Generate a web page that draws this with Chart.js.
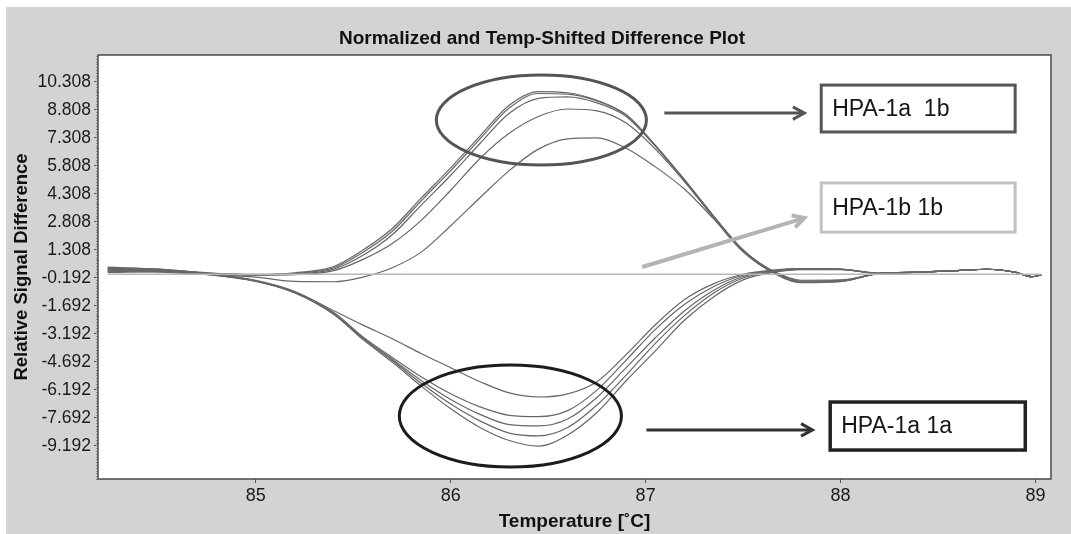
<!DOCTYPE html>
<html>
<head>
<meta charset="utf-8">
<title>Difference Plot</title>
<script src="https://cdn.jsdelivr.net/npm/chart.js@4/dist/chart.umd.min.js"></script>
<style>
  html, body { margin: 0; padding: 0; background: #fff; }
  canvas { display: block; }
</style>
</head>
<body>
<canvas id="diffChart" width="1071" height="534"></canvas>
<script>
// Melt temperatures shared by every trace
const temps = [84.24, 84.5, 84.75, 85.0, 85.2, 85.4, 85.55, 85.7, 85.85, 86.0, 86.15, 86.3, 86.45, 86.6, 86.75,
  86.9, 87.05, 87.2, 87.35, 87.5, 87.65, 87.8, 88.0, 88.2, 88.4, 88.6, 88.75, 88.9, 88.98, 89.03];

// HPA-1a 1b samples (positive hump)
const het1 = [0.38, 0.28, 0.08, 0.0, 0.08, 0.42, 1.30, 2.45, 4.10, 5.70, 7.40, 9.05, 9.78, 9.72, 9.32,
  8.55, 6.90, 5.05, 3.10, 1.30, 0.20, -0.32, -0.30, 0.05, 0.12, 0.20, 0.27, 0.10, -0.13, -0.04];
const het2 = [0.33, 0.25, 0.06, -0.02, 0.05, 0.35, 1.18, 2.30, 3.95, 5.55, 7.25, 8.90, 9.68, 9.65, 9.28,
  8.52, 6.90, 5.05, 3.10, 1.30, 0.18, -0.36, -0.33, 0.05, 0.12, 0.20, 0.27, 0.10, -0.13, -0.04];
const het3 = [0.28, 0.22, 0.05, -0.03, 0.02, 0.28, 1.02, 2.12, 3.72, 5.30, 7.00, 8.62, 9.42, 9.50, 9.18,
  8.45, 6.85, 5.00, 3.05, 1.27, 0.15, -0.40, -0.36, 0.05, 0.12, 0.20, 0.27, 0.10, -0.13, -0.04];
const het4 = [0.22, 0.18, 0.04, -0.04, -0.02, 0.20, 0.80, 1.65, 2.90, 4.50, 6.20, 7.55, 8.45, 8.85, 8.75,
  8.10, 6.70, 4.95, 3.02, 1.25, 0.13, -0.42, -0.38, 0.05, 0.12, 0.20, 0.27, 0.10, -0.13, -0.04];
const het5 = [0.15, 0.12, 0.0, -0.15, -0.38, -0.40, -0.15, 0.35, 1.20, 2.60, 4.10, 5.55, 6.70, 7.25, 7.30,
  6.75, 5.75, 4.55, 2.95, 1.20, 0.10, -0.45, -0.40, 0.05, 0.12, 0.20, 0.27, 0.10, -0.13, -0.04];

// HPA-1a 1a samples (negative trough)
const hom1 = [0.35, 0.28, 0.05, -0.33, -0.92, -1.95, -2.72, -3.45, -4.25, -5.00, -5.75, -6.35, -6.57, -6.40, -5.75,
  -4.30, -2.70, -1.35, -0.50, 0.00, 0.22, 0.30, 0.28, 0.05, 0.12, 0.20, 0.27, 0.10, -0.13, -0.04];
const hom2 = [0.30, 0.25, 0.03, -0.35, -0.95, -2.05, -3.35, -4.45, -5.50, -6.40, -7.10, -7.55, -7.62, -7.30, -6.20,
  -4.60, -2.95, -1.60, -0.65, -0.05, 0.18, 0.30, 0.28, 0.05, 0.12, 0.20, 0.27, 0.10, -0.13, -0.04];
const hom3 = [0.25, 0.22, 0.02, -0.36, -0.97, -2.10, -3.40, -4.55, -5.70, -6.70, -7.50, -8.05, -8.12, -7.75, -6.60,
  -5.00, -3.40, -1.95, -0.85, -0.12, 0.15, 0.28, 0.27, 0.05, 0.12, 0.20, 0.27, 0.10, -0.13, -0.04];
const hom4 = [0.18, 0.18, 0.0, -0.37, -0.98, -2.12, -3.45, -4.62, -5.85, -6.95, -7.85, -8.50, -8.65, -8.20, -7.00,
  -5.40, -3.70, -2.20, -1.00, -0.20, 0.12, 0.28, 0.26, 0.05, 0.12, 0.20, 0.27, 0.10, -0.13, -0.04];
const hom5 = [0.10, 0.15, -0.02, -0.38, -1.00, -2.15, -3.50, -4.70, -6.00, -7.20, -8.20, -8.90, -9.20, -8.60, -7.40,
  -5.70, -4.10, -2.45, -1.20, -0.30, 0.10, 0.25, 0.25, 0.05, 0.12, 0.20, 0.27, 0.10, -0.13, -0.04];

// HPA-1b 1b reference trace (flat)
const refTemps = [84.24, 89.03];
const refValues = [0, 0];

// Axis ticks
const xTickValues = [85, 86, 87, 88, 89];
const xTickLabels = ['85', '86', '87', '88', '89'];
const yTickValues = [10.308, 8.808, 7.308, 5.808, 4.308, 2.808, 1.308, -0.192, -1.692, -3.192, -4.692, -6.192, -7.692, -9.192];
const yTickLabels = ['10.308', '8.808', '7.308', '5.808', '4.308', '2.808', '1.308', '-0.192', '-1.692', '-3.192', '-4.692', '-6.192', '-7.692', '-9.192'];

// Genotype call-outs, placed in data units
const rings = [
  { cx: 86.465, cy: 8.26, rx: 0.539, ry: 2.41, color: '#555555', width: 3 },
  { cx: 86.306, cy: -7.59, rx: 0.57, ry: 2.73, color: '#1c1c1c', width: 3 },
];
const pointers = [
  { from: [87.096, 8.63], to: [87.814, 8.63], color: '#555555', width: 3 },
  { from: [86.982, 0.39], to: [87.814, 3.01], color: '#b4b4b4', width: 4 },
  { from: [87.004, -8.33], to: [87.856, -8.33], color: '#333333', width: 3 },
];
const labelBoxes = [
  { x0: 87.901, x1: 88.896, y0: 10.13, y1: 7.62, text: 'HPA-1a  1b', border: '#555555', width: 3 },
  { x0: 87.901, x1: 88.896, y0: 4.89, y1: 2.26, text: 'HPA-1b 1b', border: '#c2c2c2', width: 3 },
  { x0: 87.947, x1: 88.948, y0: -6.84, y1: -9.41, text: 'HPA-1a 1a', border: '#222222', width: 3.5 },
];

Chart.defaults.font.family = "'Liberation Sans', Arial, sans-serif";
Chart.defaults.color = '#1a1a1a';

const toPoints = (xs, ys) => xs.map((t, i) => ({ x: t, y: ys[i] }));

function trace(ys) {
  return {
    data: toPoints(temps, ys),
    borderColor: '#676767',
    borderWidth: 1.2,
    pointRadius: 0,
    fill: false,
    cubicInterpolationMode: 'monotone',
  };
}

// grey panel, white plot area, its frame and the minor ticks on the value axis
const panelBackground = {
  id: 'panelBackground',
  beforeDraw(chart) {
    const { ctx, chartArea: a } = chart;
    ctx.save();
    ctx.fillStyle = '#ffffff';
    ctx.fillRect(0, 0, chart.width, chart.height);
    ctx.fillStyle = '#d2d3d2';
    ctx.fillRect(6, 7, chart.width - 6, chart.height - 7);
    ctx.fillStyle = '#ffffff';
    ctx.fillRect(a.left, a.top, a.right - a.left, a.bottom - a.top);
    ctx.restore();
  },
  beforeDatasetsDraw(chart) {
    const { ctx, chartArea: a } = chart;
    const sy = chart.scales.y;
    ctx.save();
    ctx.strokeStyle = '#8a8a8a';
    ctx.lineWidth = 1;
    ctx.beginPath();
    for (let v = sy.min; v <= sy.max; v += 0.15) {
      const py = Math.round(sy.getPixelForValue(v)) + 0.5;
      ctx.moveTo(a.left - 2, py);
      ctx.lineTo(a.left, py);
    }
    ctx.stroke();
    ctx.strokeStyle = '#4a4a4a';
    ctx.lineWidth = 1.5;
    ctx.strokeRect(a.left, a.top, a.right - a.left, a.bottom - a.top);
    ctx.restore();
  },
};

// ellipses, arrows and boxed genotype names
const callouts = {
  id: 'callouts',
  afterDatasetsDraw(chart) {
    const { ctx } = chart;
    const sx = chart.scales.x;
    const sy = chart.scales.y;
    ctx.save();

    rings.forEach((r) => {
      const cx = sx.getPixelForValue(r.cx);
      const cy = sy.getPixelForValue(r.cy);
      const rx = sx.getPixelForValue(r.cx + r.rx) - cx;
      const ry = cy - sy.getPixelForValue(r.cy + r.ry);
      ctx.beginPath();
      ctx.ellipse(cx, cy, rx, ry, 0, 0, Math.PI * 2);
      ctx.strokeStyle = r.color;
      ctx.lineWidth = r.width;
      ctx.stroke();
    });

    pointers.forEach((p) => {
      const x0 = sx.getPixelForValue(p.from[0]);
      const y0 = sy.getPixelForValue(p.from[1]);
      const x1 = sx.getPixelForValue(p.to[0]);
      const y1 = sy.getPixelForValue(p.to[1]);
      const ang = Math.atan2(y1 - y0, x1 - x0);
      const head = 13;
      ctx.strokeStyle = p.color;
      ctx.lineWidth = p.width;
      ctx.lineCap = 'butt';
      ctx.beginPath();
      ctx.moveTo(x0, y0);
      ctx.lineTo(x1 - 2 * Math.cos(ang), y1 - 2 * Math.sin(ang));
      ctx.stroke();
      ctx.lineJoin = 'miter';
      ctx.beginPath();
      ctx.moveTo(x1 - head * Math.cos(ang - 0.5), y1 - head * Math.sin(ang - 0.5));
      ctx.lineTo(x1, y1);
      ctx.lineTo(x1 - head * Math.cos(ang + 0.5), y1 - head * Math.sin(ang + 0.5));
      ctx.stroke();
    });

    ctx.font = "23px 'Liberation Sans', Arial, sans-serif";
    ctx.textBaseline = 'middle';
    ctx.textAlign = 'left';
    labelBoxes.forEach((b) => {
      const left = sx.getPixelForValue(b.x0);
      const right = sx.getPixelForValue(b.x1);
      const top = sy.getPixelForValue(b.y0);
      const bottom = sy.getPixelForValue(b.y1);
      ctx.fillStyle = '#ffffff';
      ctx.fillRect(left, top, right - left, bottom - top);
      ctx.strokeStyle = b.border;
      ctx.lineWidth = b.width;
      ctx.strokeRect(left, top, right - left, bottom - top);
      ctx.fillStyle = '#161616';
      ctx.fillText(b.text, left + 11, (top + bottom) / 2 + 1);
    });

    ctx.restore();
  },
};

new Chart(document.getElementById('diffChart'), {
  type: 'line',
  data: {
    datasets: [
      {
        data: toPoints(refTemps, refValues),
        borderColor: '#b9b9b9',
        borderWidth: 1.6,
        pointRadius: 0,
        fill: false,
      },
      trace(hom1), trace(hom2), trace(hom3), trace(hom4), trace(hom5),
      trace(het5), trace(het4), trace(het3), trace(het2), trace(het1),
    ],
  },
  options: {
    responsive: false,
    animation: false,
    events: [],
    layout: { padding: { left: 13, top: 7, right: 0, bottom: 0 } },
    plugins: {
      legend: { display: false },
      tooltip: { enabled: false },
      title: {
        display: true,
        text: 'Normalized and Temp-Shifted Difference Plot',
        color: '#111111',
        font: { size: 19, weight: 'bold', lineHeight: 1.2 },
        padding: { top: 20.6, bottom: 4.6 },
      },
    },
    scales: {
      x: {
        type: 'linear',
        min: 84.19,
        max: 89.08,
        afterFit(scale) { scale.height = 55; },
        afterBuildTicks(scale) { scale.ticks = xTickValues.map((v) => ({ value: v })); },
        ticks: {
          callback: (v, i) => xTickLabels[i],
          font: { size: 18 },
          padding: 2,
          maxRotation: 0,
          autoSkip: false,
        },
        grid: { drawOnChartArea: false, tickLength: 4, color: '#555555' },
        border: { display: false },
        title: {
          display: true,
          text: 'Temperature [˚C]',
          color: '#111111',
          font: { size: 19, weight: 'bold', lineHeight: 1.2 },
          padding: { top: 0, bottom: 0.6 },
        },
      },
      y: {
        type: 'linear',
        min: -10.96,
        max: 11.74,
        afterFit(scale) { scale.width = 85; },
        afterBuildTicks(scale) { scale.ticks = yTickValues.map((v) => ({ value: v })); },
        ticks: {
          callback: (v, i) => yTickLabels[i],
          font: { size: 17.5 },
          padding: 3,
          autoSkip: false,
        },
        grid: { drawOnChartArea: false, tickLength: 4, color: '#555555' },
        border: { display: false },
        title: {
          display: true,
          text: 'Relative Signal Difference',
          color: '#111111',
          font: { size: 18.5, weight: 'bold', lineHeight: 1 },
          padding: { top: 0, bottom: 0 },
        },
      },
      yRight: {
        type: 'linear',
        position: 'right',
        afterFit(scale) { scale.width = 20; },
        ticks: { display: false },
        grid: { display: false },
        border: { display: false },
      },
    },
  },
  plugins: [panelBackground, callouts],
});
</script>
</body>
</html>
